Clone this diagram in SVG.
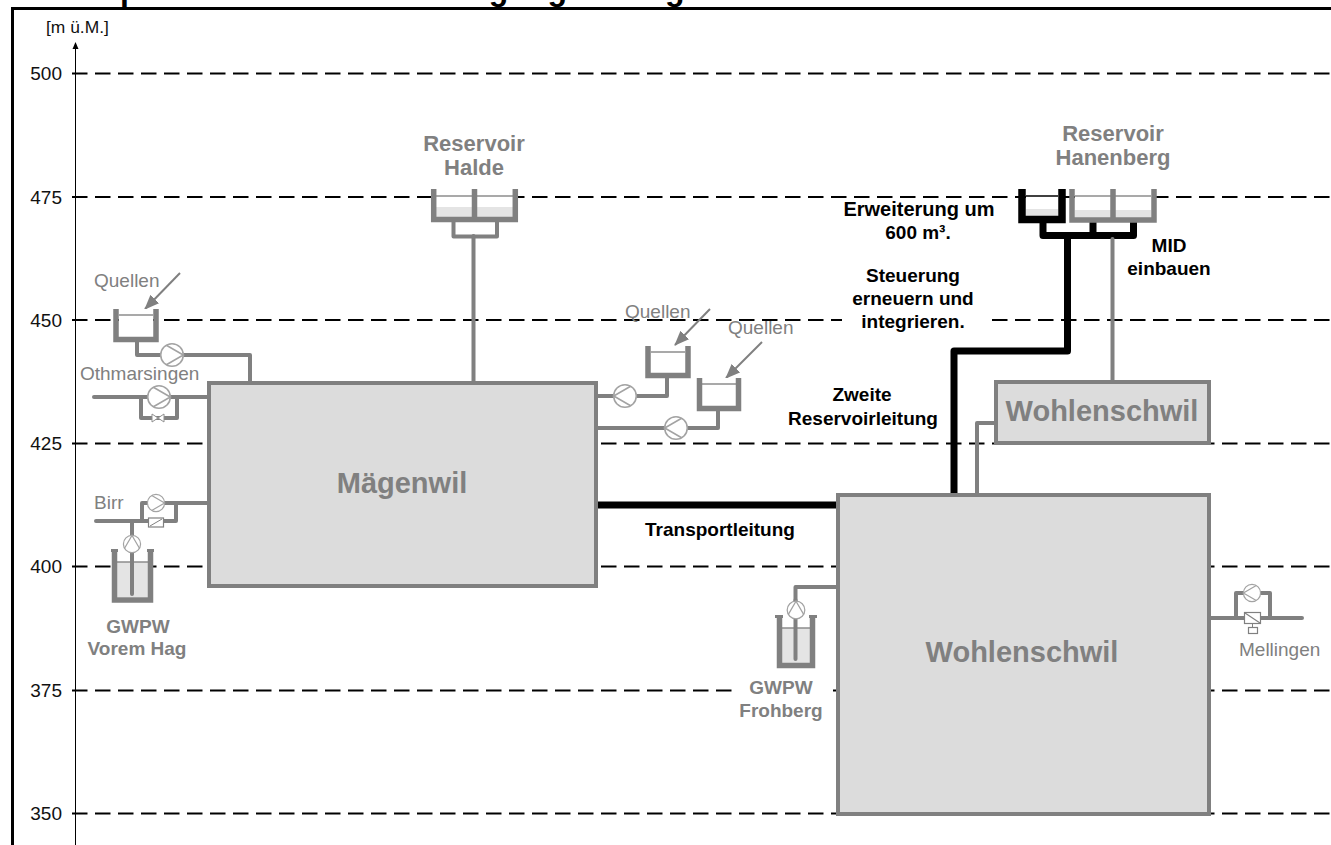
<svg xmlns="http://www.w3.org/2000/svg" width="1331" height="845" viewBox="0 0 1331 845">
<style>
text{font-family:"Liberation Sans",Arial,sans-serif}
.g{fill:#808080;font-size:19px}
.gb{fill:#808080;font-size:19px;font-weight:bold;text-anchor:middle}
.r{fill:#808080;font-size:22px;font-weight:bold;text-anchor:middle}
.k{fill:#000;font-size:19px;font-weight:bold;text-anchor:middle}
.n{fill:#111;font-size:19px;text-anchor:end}
.big{fill:#808080;font-size:29px;font-weight:bold;text-anchor:middle}
.grid{fill:none;stroke:#000;stroke-width:2;stroke-dasharray:15.5 7.5}
.box{fill:#dcdcdc;stroke:#808080;stroke-width:4}
.p{fill:none;stroke:#808080;stroke-width:4;stroke-linejoin:round;stroke-linecap:round}
.pk{fill:none;stroke:#000;stroke-width:7;stroke-linejoin:round}
.tank{fill:none;stroke:#808080;stroke-width:5.5;stroke-linejoin:miter}
.tk{fill:none;stroke:#000;stroke-width:7.5;stroke-linejoin:miter}
.wl{stroke:#8c8c8c;stroke-width:1.5}
.water{fill:#e4e4e4;stroke:none}
.arr{stroke:#808080;stroke-width:2;marker-end:url(#ah)}
.v{fill:#fff;stroke:#808080;stroke-width:1.2}
</style>
<defs>
<marker id="ah" markerUnits="userSpaceOnUse" markerWidth="16" markerHeight="14" refX="14" refY="7" orient="auto"><path d="M0 1 L15 7 L0 13 Z" fill="#808080"/></marker>
<marker id="ax" markerUnits="userSpaceOnUse" markerWidth="8" markerHeight="8" refX="6" refY="4" orient="auto"><path d="M0 1 L7 4 L0 7 Z" fill="#000"/></marker>
<g id="pump"><circle r="11.3" fill="#fff" stroke="#a3a3a3" stroke-width="1.6"/><path d="M-5.6 -9.8 L11.3 0 L-5.6 9.8" fill="none" stroke="#a3a3a3" stroke-width="1.6"/></g>
</defs>
<rect width="1331" height="845" fill="#fff"/>
<text id="title" x="59.5" y="0" font-size="32" font-weight="bold" fill="#000">Hauptschema Wasserversorgung <tspan x="620.5">Mägenwil Wohlenschwil</tspan></text>
<path id="frame" d="M12.5 845 V8.5 H1331" fill="none" stroke="#000" stroke-width="3"/>
<g id="axis">
<path d="M75.5 845 V43" stroke="#000" stroke-width="1" marker-end="url(#ax)"/>
<text x="46" y="33" font-size="17.4" fill="#111">[m ü.M.]</text>
<text class="n" x="62" y="80">500</text><text class="n" x="62" y="204">475</text><text class="n" x="62" y="327">450</text><text class="n" x="62" y="450">425</text><text class="n" x="62" y="573">400</text><text class="n" x="62" y="697">375</text><text class="n" x="62" y="820">350</text>
<path class="grid" d="M72 73.5H1331M72 197H1331M72 320H1331M72 443.500H1331M72 566.500H1331M72 690.500H1331M72 813.500H1331"/>
<rect x="842" y="300" width="143" height="40" fill="#fff"/>
<rect x="738" y="680" width="95" height="20" fill="#fff"/>
</g>
<g id="connectors">
<path class="pk" d="M598 505H838"/>
<path class="pk" d="M954 494V351H1067.500V236"/>
<path class="pk" d="M1043 222V235.500H1133.500V222M1093 222V235"/>
<path class="p" d="M1112.500 239V381" stroke-width="3.500"/>
<path class="p" d="M977 494V423H995"/>
<path class="p" d="M473.500 236V381" stroke-width="3"/>
<path class="p" d="M453.500 222V236.500H497V222"/>
<path class="p" d="M137 342V355H250V381"/>
<path class="p" d="M94 397H207"/>
<path class="p" d="M141 397V418H177V397"/>
<path class="p" d="M96 521H176M142 521V503H207M176 503V521"/>
<path class="p" d="M132 521V594"/>
<path class="p" d="M667 378V396H598"/>
<path class="p" d="M718 411V428H598"/>
<path class="p" d="M836 587H795.500V659"/>
<path class="p" d="M1211 618H1302M1236 618V593H1270V618"/>
<path class="arr" d="M180 273L145 309"/>
<path class="arr" d="M710 309L675 345"/>
<path class="arr" d="M762 342L726 378"/>
</g>
<g id="node-maegenwil"><rect class="box" x="209" y="383" width="387" height="203"/><text class="big" x="402" y="493">Mägenwil</text></g>
<g id="node-wohlenschwil"><rect class="box" x="838" y="495" width="371" height="319"/><text class="big" x="1022" y="662">Wohlenschwil</text></g>
<g id="node-wohlenschwil-small"><rect class="box" x="996" y="382" width="213" height="61"/><text class="big" x="1102" y="421">Wohlenschwil</text></g>
<g id="node-halde">
<rect x="436" y="189" width="78" height="29" fill="#fff"/><rect class="water" x="436" y="207" width="78" height="11"/>
<path class="wl" d="M436 196H514"/>
<path class="tank" d="M433.700 189V219.500H515.300V189M474.500 189V219"/>
<text class="r" x="474" y="151">Reservoir</text><text class="r" x="474" y="175">Halde</text>
</g>
<g id="node-hanenberg">
<rect x="1026" y="189" width="32" height="28" fill="#fff"/><rect class="water" x="1026" y="209" width="32" height="8"/>
<path d="M1026 196H1058" stroke="#000" stroke-width="1.500"/>
<path class="tk" d="M1022 189V219.500H1062V189"/>
<rect x="1075" y="189" width="76" height="29" fill="#fff"/><rect class="water" x="1075" y="210" width="76" height="8"/>
<path class="wl" d="M1075 196H1151"/>
<path class="tank" d="M1072 189V220H1154V189M1113 189V220"/>
<text class="r" x="1113" y="141">Reservoir</text><text class="r" x="1113" y="165">Hanenberg</text>
</g>
<g id="node-quellen-1">
<rect x="119" y="309" width="34" height="28" fill="#fff"/><path class="wl" d="M119 315H153"/>
<path class="tank" d="M116 309V339.500H156V309"/>
<text class="g" x="94" y="287">Quellen</text>
<use href="#pump" transform="translate(172 355)"/>
</g>
<g id="node-othmarsingen">
<text class="g" x="80" y="380">Othmarsingen</text>
<use href="#pump" transform="translate(159 397)"/>
<path d="M152 414L158 418L152 422ZM164 414L158 418L164 422Z" fill="#fff" stroke="#909090" stroke-width="1"/>
</g>
<g id="node-birr">
<text class="g" x="94" y="509">Birr</text>
<use href="#pump" transform="translate(156 503) scale(.76)"/>
<rect class="v" x="148.500" y="518" width="15" height="9"/><path d="M150 526L162 519" stroke="#808080" stroke-width="1"/>
</g>
<g id="node-vorem-hag">
<rect x="117" y="550" width="31" height="47" fill="#fff"/><rect class="water" x="117" y="562" width="31" height="35"/>
<path class="wl" d="M117 562H148"/>
<path class="tank" d="M114.500 550V600H150.500V550"/>
<path d="M111 550.500H118M147 550.500H154" stroke="#808080" stroke-width="3"/>
<path class="p" d="M132 521V594"/>
<use href="#pump" transform="translate(132 544) rotate(-90) scale(.76)"/>
<text class="gb" x="138" y="633">GWPW</text><text class="gb" x="137" y="655">Vorem Hag</text>
</g>
<g id="node-quellen-2">
<rect x="651" y="346" width="34" height="27" fill="#fff"/><path class="wl" d="M651 352H685"/>
<path class="tank" d="M648 346V375.500H688V346"/>
<text class="g" x="625" y="318">Quellen</text>
<use href="#pump" transform="translate(625 396) rotate(180)"/>
</g>
<g id="node-quellen-3">
<rect x="702" y="378" width="34" height="28" fill="#fff"/><path class="wl" d="M702 384H736"/>
<path class="tank" d="M699.500 378V408.500H738.500V378"/>
<text class="g" x="728" y="334">Quellen</text>
<use href="#pump" transform="translate(676 428) rotate(180)"/>
</g>
<g id="node-frohberg">
<rect x="782" y="615" width="28" height="48" fill="#fff"/><rect class="water" x="782" y="628" width="28" height="35"/>
<path class="wl" d="M782 628H810"/>
<path class="tank" d="M779.500 615V665.500H812.500V615"/>
<path d="M775 616.500H783M809 616.500H817" stroke="#808080" stroke-width="3"/>
<path class="p" d="M795.500 600V659"/>
<use href="#pump" transform="translate(796 610) rotate(-90) scale(.78)"/>
<text class="gb" x="781" y="694">GWPW</text><text class="gb" x="781" y="717">Frohberg</text>
</g>
<g id="node-mellingen">
<use href="#pump" transform="translate(1252 593) rotate(180) scale(.76)"/>
<rect class="v" x="1244.500" y="612.500" width="16" height="11"/><path d="M1245 613L1260 623" stroke="#808080" stroke-width="1.200"/>
<path d="M1252.500 623.500V627.500" stroke="#808080" stroke-width="1"/><rect class="v" x="1248.500" y="627.500" width="9" height="6"/>
<text class="g" x="1239" y="656">Mellingen</text>
</g>
<g id="labels">
<text class="k" x="919" y="216" font-size="20" style="font-size:20px">Erweiterung um</text>
<text class="k" x="918" y="239">600 m³.</text>
<text class="k" x="913" y="282">Steuerung</text>
<text class="k" x="913" y="305">erneuern und</text>
<text class="k" x="913" y="328">integrieren.</text>
<text class="k" x="862" y="401">Zweite</text>
<text class="k" x="863" y="425">Reservoirleitung</text>
<text class="k" x="720" y="536">Transportleitung</text>
<text class="k" x="1169" y="252">MID</text>
<text class="k" x="1169" y="275">einbauen</text>
</g>
</svg>
